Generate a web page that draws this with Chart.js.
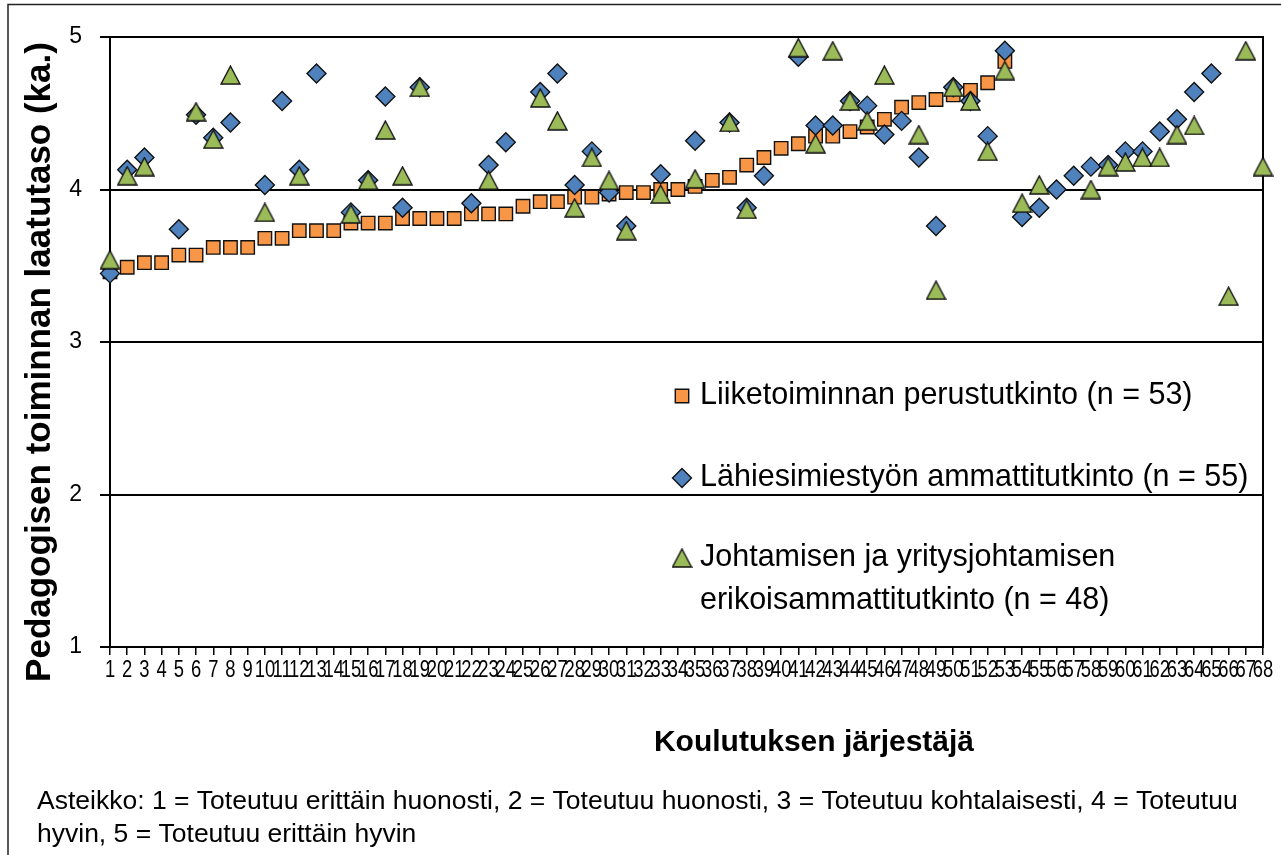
<!DOCTYPE html>
<html>
<head>
<meta charset="utf-8">
<script src="https://cdn.jsdelivr.net/npm/chart.js@4.4.0/dist/chart.umd.min.js"></script>
<style>
  html, body { margin: 0; padding: 0; background: #fff; }
  #wrap { position: relative; width: 1281px; height: 855px; }
</style>
</head>
<body>
<div id="wrap"><canvas id="chart" width="1281" height="855"></canvas></div>
<script>
// provider numbers on the x axis
const providers = [
  "1","2","3","4","5","6","7","8","9","10","11","12","13","14","15","16","17",
  "18","19","20","21","22","23","24","25","26","27","28","29","30","31","32","33","34",
  "35","36","37","38","39","40","41","42","43","44","45","46","47","48","49","50","51",
  "52","53","54","55","56","57","58","59","60","61","62","63","64","65","66","67","68"
];

// Liiketoiminnan perustutkinto (n = 53)
const perustutkinto = [
  3.46, 3.49, 3.52, 3.52, 3.57, 3.57, 3.62, 3.62, 3.62, 3.68,
  3.68, 3.73, 3.73, 3.73, 3.78, 3.78, 3.78, 3.81, 3.81, 3.81,
  3.81, 3.84, 3.84, 3.84, 3.89, 3.92, 3.92, 3.95, 3.95, 3.97,
  3.98, 3.98, 4.00, 4.00, 4.02, 4.06, 4.08, 4.16, 4.21, 4.27,
  4.30, 4.35, 4.35, 4.38, 4.41, 4.46, 4.54, 4.57, 4.59, 4.62,
  4.65, 4.70, 4.84, null, null, null, null, null, null, null,
  null, null, null, null, null, null, null, null
];

// Lähiesimiestyön ammattitutkinto (n = 55)
const ammattitutkinto = [
  3.45, 4.13, 4.21, null, 3.74, 4.49, 4.34, 4.44, null, 4.03,
  4.58, 4.13, 4.76, null, 3.85, 4.06, 4.61, 3.88, 4.67, null,
  null, 3.91, 4.16, 4.31, null, 4.64, 4.76, 4.03, 4.25, 3.98,
  3.76, null, 4.10, null, 4.32, null, 4.44, 3.88, 4.09, null,
  4.87, 4.42, 4.42, 4.58, 4.55, 4.36, 4.45, 4.21, 3.76, 4.67,
  4.58, 4.35, 4.91, 3.82, 3.88, 4.00, 4.09, 4.15, 4.16, 4.25,
  4.25, 4.38, 4.46, 4.64, 4.76, null, null, null
];

// Johtamisen ja yritysjohtamisen erikoisammattitutkinto (n = 48)
const erikoisammattitutkinto = [
  3.54, 4.09, 4.15, null, null, 4.51, 4.33, 4.75, null, 3.85,
  null, 4.09, null, null, 3.84, 4.06, 4.39, 4.09, 4.67, null,
  null, null, 4.06, null, null, 4.60, 4.45, 3.88, 4.21, 4.06,
  3.73, null, 3.97, null, 4.07, null, 4.44, 3.87, null, null,
  4.93, 4.30, 4.91, 4.58, 4.45, 4.75, null, 4.36, 3.34, 4.67,
  4.58, 4.25, 4.78, 3.91, 4.03, null, null, 4.00, 4.15, 4.18,
  4.21, 4.21, 4.36, 4.42, null, 3.30, 4.91, 4.15
];

const seriesNames = [
  ["Liiketoiminnan perustutkinto (n = 53)"],
  ["Lähiesimiestyön ammattitutkinto (n = 55)"],
  ["Johtamisen ja yritysjohtamisen", "erikoisammattitutkinto (n = 48)"]
];

const yTitle = "Pedagogisen toiminnan laatutaso (ka.)";
const xTitle = "Koulutuksen järjestäjä";
const footnote = [
  "Asteikko: 1 = Toteutuu erittäin huonosti, 2 = Toteutuu huonosti, 3 = Toteutuu kohtalaisesti, 4 = Toteutuu",
  "hyvin, 5 = Toteutuu erittäin hyvin"
];

const FONT = "'Liberation Sans', Arial, sans-serif";

// excel-like triangle marker (centered in its box)
function makeTriangle(fill) {
  const c = document.createElement("canvas");
  c.width = 21;
  c.height = 20;
  const g = c.getContext("2d");
  g.beginPath();
  g.moveTo(10.5, 1);
  g.lineTo(20, 19);
  g.lineTo(1, 19);
  g.closePath();
  g.fillStyle = fill;
  g.fill();
  g.lineWidth = 1.4;
  g.strokeStyle = "#111";
  g.stroke();
  return c;
}
const triangleMarker = makeTriangle("#9bbb59");

const extras = {
  id: "extras",
  beforeDraw(chart) {
    const ctx = chart.ctx;
    ctx.save();
    ctx.fillStyle = "#fff";
    ctx.fillRect(0, 0, chart.width, chart.height);
    ctx.strokeStyle = "#222";
    ctx.lineWidth = 1.5;
    ctx.beginPath();
    ctx.moveTo(8, chart.height);
    ctx.lineTo(8, 4.5);
    ctx.lineTo(chart.width, 4.5);
    ctx.stroke();
    ctx.restore();
  },
  afterDraw(chart) {
    const ctx = chart.ctx;
    const xs = chart.scales.x;
    const area = chart.chartArea;
    ctx.save();
    ctx.fillStyle = "#000";

    // narrow x tick labels
    ctx.font = "23px " + FONT;
    ctx.textAlign = "center";
    ctx.textBaseline = "alphabetic";
    providers.forEach((lab, i) => {
      ctx.save();
      ctx.translate(xs.getPixelForValue(i), area.bottom + 30);
      ctx.scale(0.8, 1);
      ctx.fillText(lab, 0, 0);
      ctx.restore();
    });

    // axis titles
    ctx.font = "bold 30px " + FONT;
    ctx.fillText(xTitle, 814, 751);

    ctx.save();
    ctx.translate(50, 362);
    ctx.rotate(-Math.PI / 2);
    ctx.font = "bold 35px " + FONT;
    ctx.fillText(yTitle, 0, 0);
    ctx.restore();

    // footnote
    ctx.textAlign = "left";
    ctx.font = "26.5px " + FONT;
    ctx.fillText(footnote[0], 37, 809);
    ctx.fillText(footnote[1], 37, 842);

    // legend inside the plot
    const rows = [396, 478, 558];
    ctx.font = "30.5px " + FONT;
    ctx.textBaseline = "middle";
    chart.data.datasets.forEach((ds, i) => {
      const y = rows[i];
      ctx.save();
      ctx.fillStyle = ds.backgroundColor;
      ctx.strokeStyle = ds.borderColor;
      ctx.lineWidth = ds.borderWidth;
      Chart.helpers.drawPoint(ctx, {
        pointStyle: ds.pointStyle,
        radius: ds.pointRadius,
        rotation: 0,
        borderWidth: ds.borderWidth
      }, 682, y);
      ctx.restore();
      seriesNames[i].forEach((line, j) => {
        ctx.fillText(line, 700, y + j * 43);
      });
    });
    ctx.restore();
  }
};

new Chart(document.getElementById("chart"), {
  type: "line",
  data: {
    labels: providers,
    datasets: [
      {
        label: seriesNames[0].join(" "),
        data: perustutkinto,
        showLine: false,
        pointStyle: "rect",
        pointRadius: 9.5,
        backgroundColor: "#f79646",
        borderColor: "#111",
        borderWidth: 1.4,
        order: 3
      },
      {
        label: seriesNames[1].join(" "),
        data: ammattitutkinto,
        showLine: false,
        pointStyle: "rectRot",
        pointRadius: 9.5,
        backgroundColor: "#4f81bd",
        borderColor: "#111",
        borderWidth: 1.4,
        order: 2
      },
      {
        label: seriesNames[2].join(" "),
        data: erikoisammattitutkinto,
        showLine: false,
        pointStyle: triangleMarker,
        pointRadius: 10,
        backgroundColor: "#9bbb59",
        borderColor: "#111",
        borderWidth: 1.4,
        order: 1
      }
    ]
  },
  plugins: [extras],
  options: {
    responsive: false,
    animation: false,
    layout: { padding: { top: 37, right: 18, left: 0, bottom: 0 } },
    plugins: {
      legend: { display: false },
      tooltip: { enabled: false }
    },
    scales: {
      x: {
        type: "category",
        offset: false,
        grid: {
          drawOnChartArea: false,
          drawTicks: true,
          tickLength: 8,
          color: "#000",
          lineWidth: 1.5,
          offset: false
        },
        border: { display: true, color: "#000", width: 2 },
        ticks: {
          autoSkip: false,
          maxRotation: 0,
          color: "rgba(0,0,0,0)",
          font: { size: 12, family: FONT }
        },
        afterFit(scale) { scale.height = 208; }
      },
      y: {
        min: 1,
        max: 5,
        ticks: {
          stepSize: 1,
          color: "#000",
          padding: 18,
          font: { size: 23, family: FONT }
        },
        grid: { color: "#000", lineWidth: 2, tickLength: 10 },
        border: { display: true, color: "#000", width: 2 },
        afterFit(scale) { scale.width = 110; }
      },
      yRight: {
        position: "right",
        min: 1,
        max: 5,
        ticks: { display: false },
        grid: { drawOnChartArea: false, drawTicks: false },
        border: { display: true, color: "#000", width: 2 },
        afterFit(scale) { scale.width = 0; }
      }
    }
  }
});
</script>
</body>
</html>
